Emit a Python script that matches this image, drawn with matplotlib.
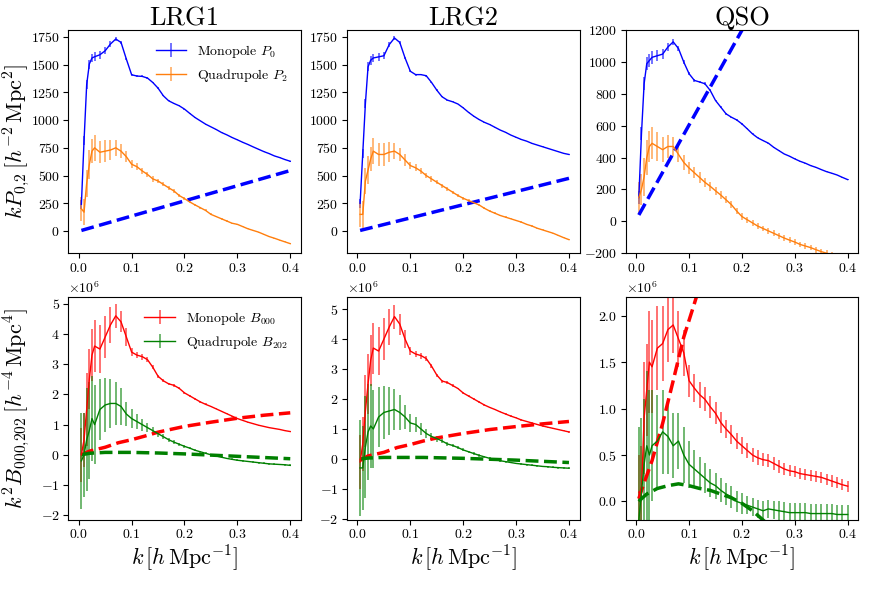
import numpy as np
import matplotlib
matplotlib.use('Agg')
from matplotlib import pyplot as plt
from matplotlib.ticker import ScalarFormatter

plt.rcParams['font.family'] = 'serif'
plt.rcParams['font.serif'] = ['cmr10']
plt.rcParams['mathtext.fontset'] = 'cm'
plt.rcParams['axes.formatter.use_mathtext'] = True
plt.rcParams['axes.unicode_minus'] = True

# k bins (h/Mpc)
k = [0.005, 0.01, 0.015, 0.02, 0.025, 0.03,
     0.04, 0.05, 0.06, 0.07, 0.08, 0.09, 0.10,
     0.11, 0.12, 0.13, 0.14, 0.15, 0.16, 0.17, 0.18, 0.19, 0.20,
     0.21, 0.22, 0.23, 0.24, 0.25, 0.26, 0.27, 0.28, 0.29, 0.30,
     0.31, 0.32, 0.33, 0.34, 0.35, 0.36, 0.37, 0.38, 0.39, 0.40]

tracers = ['LRG1', 'LRG2', 'QSO']

# ---- power spectrum multipoles, k P_l ----
p0_lrg1 = [241, 813, 1320, 1505, 1560, 1571,
           1589, 1625, 1686, 1731, 1700, 1550, 1409,
           1397, 1394, 1379, 1339, 1288, 1219, 1174, 1150, 1129, 1099,
           1060, 1023, 993, 963, 939, 915, 888, 867, 843, 822,
           800, 780, 758, 737, 716, 698, 677, 662, 644, 629]
p0_lrg2 = [250, 700, 1150, 1480, 1540, 1560,
           1570, 1580, 1680, 1740, 1700, 1560, 1440,
           1410, 1410, 1400, 1340, 1270, 1210, 1180, 1165, 1145, 1110,
           1070, 1035, 1005, 980, 960, 935, 910, 890, 865, 845,
           825, 810, 790, 775, 760, 745, 730, 715, 700, 690]
p0_qso = [150, 550, 864, 990, 1010, 1030,
          1040, 1050, 1095, 1127, 1085, 1000, 927,
          885, 875, 864, 822, 759, 717, 675, 654, 637, 612,
          581, 549, 524, 507, 491, 465, 444, 423, 409, 392,
          377, 365, 350, 339, 325, 312, 302, 291, 276, 262]
p0_err = [40, 40, 40, 40, 40, 40,
          35, 30, 25, 20, 15, 12, 10,
          10, 8, 8, 6, 6, 5, 5, 4, 4, 4,
          4, 3, 3, 3, 3, 3, 3, 3, 3, 3,
          3, 3, 3, 3, 3, 3, 3, 3, 3, 3]

p2_lrg1 = [200, 170, 430, 600, 720, 750,
           710, 720, 730, 750, 720, 670, 602,
           580, 542, 510, 470, 451, 420, 390, 361, 320, 292,
           262, 235, 210, 185, 150, 130, 110, 90, 70, 60,
           40, 20, 5, -10, -30, -50, -65, -82, -98, -114]
p2_lrg2 = [150, 150, 450, 550, 650, 720,
           690, 690, 710, 720, 690, 640, 590,
           570, 540, 500, 470, 440, 410, 380, 350, 320, 295,
           275, 255, 235, 205, 180, 160, 140, 125, 110, 95,
           80, 60, 45, 25, 10, -5, -20, -40, -60, -78]
p2_qso = [150, 200, 280, 400, 470, 490,
          470, 450, 470, 470, 420, 370, 335,
          305, 275, 245, 220, 192, 165, 135, 105, 65, 30,
          10, -10, -30, -45, -60, -75, -90, -105, -118, -130,
          -145, -155, -165, -178, -190, -200, -210, -218, -226, -235]
p2_err = [110, 120, 120, 130, 110, 120,
          100, 100, 90, 70, 60, 50, 35,
          30, 30, 25, 25, 20, 18, 16, 15, 14, 12,
          11, 10, 10, 9, 8, 8, 7, 7, 6, 6,
          6, 6, 5, 5, 5, 5, 5, 5, 5, 5]
p2_err_qso = [100, 100, 120, 110, 100, 100,
              90, 80, 70, 60, 50, 45, 40,
              35, 32, 30, 28, 26, 24, 22, 20, 20, 20,
              20, 20, 20, 18, 18, 18, 18, 18, 18, 18,
              18, 18, 18, 18, 18, 18, 18, 18, 18, 18]

# model (dashed) lines
pk_model_k = [0.005, 0.4]
pk_model_lrg1 = [5, 545]
pk_model_lrg2 = [5, 475]
pk_model_qso = [40, 2390]

# ---- bispectrum multipoles, k^2 B (units of 1e6) ----
b0_lrg1 = [0.0, 0.5, 1.5, 2.5, 3.3, 3.6,
           3.5, 3.9, 4.3, 4.6, 4.4, 3.9, 3.4,
           3.3, 3.25, 3.15, 2.9, 2.6, 2.45, 2.35, 2.3, 2.2, 2.05,
           1.95, 1.85, 1.75, 1.67, 1.6, 1.52, 1.44, 1.36, 1.28, 1.2,
           1.14, 1.08, 1.03, 0.98, 0.94, 0.9, 0.87, 0.84, 0.8, 0.77]
b0_lrg2 = [-0.1, 0.5, 1.6, 2.5, 3.3, 3.7,
           3.6, 4.0, 4.4, 4.75, 4.5, 4.0, 3.6,
           3.5, 3.45, 3.35, 3.1, 2.8, 2.6, 2.55, 2.45, 2.35, 2.2,
           2.1, 2.0, 1.9, 1.8, 1.72, 1.65, 1.57, 1.5, 1.43, 1.37,
           1.3, 1.25, 1.2, 1.15, 1.1, 1.06, 1.02, 0.98, 0.94, 0.9]
b0_qso = [0.1, 0.1, 0.9, 1.2, 1.5, 1.45,
          1.65, 1.7, 1.85, 1.9, 1.75, 1.6, 1.3,
          1.22, 1.15, 1.1, 1.02, 0.95, 0.85, 0.78, 0.72, 0.65, 0.6,
          0.55, 0.5, 0.47, 0.45, 0.44, 0.41, 0.38, 0.35, 0.33, 0.32,
          0.3, 0.29, 0.28, 0.27, 0.26, 0.24, 0.22, 0.2, 0.18, 0.165]
b0_err = [0.9, 0.9, 1.2, 1.0, 0.85, 0.85,
          0.8, 0.7, 0.6, 0.4, 0.35, 0.3, 0.12,
          0.1, 0.1, 0.08, 0.06, 0.05, 0.05, 0.04, 0.04, 0.03, 0.03,
          0.03, 0.03, 0.03, 0.03, 0.02, 0.02, 0.02, 0.02, 0.02, 0.02,
          0.02, 0.02, 0.02, 0.02, 0.02, 0.02, 0.02, 0.02, 0.02, 0.02]
b0_err_qso = [0.4, 0.5, 0.6, 0.5, 0.55, 0.5,
              0.45, 0.4, 0.35, 0.3, 0.3, 0.25, 0.17,
              0.15, 0.14, 0.13, 0.12, 0.12, 0.11, 0.1, 0.1, 0.09, 0.09,
              0.08, 0.08, 0.08, 0.07, 0.07, 0.07, 0.07, 0.06, 0.06, 0.06,
              0.06, 0.06, 0.06, 0.06, 0.06, 0.06, 0.06, 0.06, 0.06, 0.06]

b2_lrg1 = [-0.2, 0.0, 0.5, 0.8, 1.2, 1.0,
           1.5, 1.65, 1.7, 1.7, 1.6, 1.35, 1.2,
           1.1, 1.0, 0.9, 0.8, 0.7, 0.6, 0.5, 0.42, 0.35, 0.28,
           0.22, 0.15, 0.1, 0.05, 0.0, -0.04, -0.08, -0.12, -0.15, -0.18,
           -0.2, -0.22, -0.24, -0.26, -0.28, -0.3, -0.31, -0.32, -0.33, -0.35]
b2_lrg2 = [-0.3, -0.3, 0.4, 0.9, 1.1, 1.0,
           1.4, 1.55, 1.6, 1.65, 1.55, 1.4, 1.2,
           1.15, 1.0, 0.85, 0.75, 0.68, 0.6, 0.5, 0.45, 0.38, 0.3,
           0.24, 0.18, 0.12, 0.07, 0.02, -0.02, -0.06, -0.09, -0.12, -0.15,
           -0.17, -0.19, -0.21, -0.23, -0.25, -0.26, -0.28, -0.29, -0.3, -0.31]
b2_qso = [-0.2, 0.1, 0.4, 0.6, 0.5, 0.6,
          0.65, 0.75, 0.7, 0.6, 0.65, 0.5, 0.4,
          0.35, 0.3, 0.25, 0.2, 0.17, 0.12, 0.08, 0.05, 0.0, -0.02,
          -0.04, -0.06, -0.08, -0.1, -0.08, -0.09, -0.1, -0.11, -0.12, -0.12,
          -0.12, -0.12, -0.13, -0.13, -0.13, -0.13, -0.13, -0.14, -0.14, -0.14]
b2_err = [1.6, 1.4, 1.7, 1.6, 1.4, 1.3,
          1.0, 0.9, 0.8, 0.7, 0.6, 0.4, 0.3,
          0.25, 0.2, 0.15, 0.12, 0.1, 0.08, 0.07, 0.06, 0.05, 0.05,
          0.04, 0.04, 0.04, 0.03, 0.03, 0.03, 0.03, 0.03, 0.03, 0.03,
          0.03, 0.03, 0.03, 0.03, 0.03, 0.03, 0.03, 0.03, 0.03, 0.03]
b2_err_qso = [1.0, 0.8, 0.7, 0.8, 0.7, 0.6,
              0.5, 0.45, 0.4, 0.35, 0.3, 0.3, 0.25,
              0.2, 0.18, 0.16, 0.15, 0.14, 0.13, 0.12, 0.12, 0.11, 0.11,
              0.1, 0.1, 0.1, 0.1, 0.1, 0.1, 0.1, 0.1, 0.1, 0.1,
              0.1, 0.1, 0.1, 0.1, 0.1, 0.1, 0.1, 0.1, 0.1, 0.1]

# bispectrum model curves (units of 1e6)
bk_model_k = [0.005, 0.02, 0.05, 0.075, 0.1, 0.125, 0.15, 0.2, 0.25, 0.3, 0.35, 0.4]
b0_model_lrg1 = [0.0, 0.12, 0.25, 0.4, 0.5, 0.62, 0.75, 0.94, 1.08, 1.21, 1.31, 1.39]
b2_model_lrg1 = [0.0, 0.05, 0.08, 0.08, 0.08, 0.07, 0.06, 0.03, -0.01, -0.05, -0.09, -0.13]
b0_model_lrg2 = [-0.05, 0.1, 0.22, 0.38, 0.48, 0.6, 0.7, 0.85, 0.98, 1.08, 1.17, 1.25]
b2_model_lrg2 = [0.0, 0.03, 0.05, 0.05, 0.05, 0.05, 0.04, 0.02, -0.01, -0.04, -0.08, -0.12]
b0_model_qso_k = [0.005, 0.01, 0.03, 0.05, 0.07, 0.09, 0.11, 0.13, 0.15]
b0_model_qso = [0.03, 0.12, 0.44, 0.84, 1.3, 1.77, 2.13, 2.5, 2.9]
b2_model_qso_k = [0.005, 0.01, 0.02, 0.04, 0.06, 0.08, 0.1, 0.12, 0.14, 0.16, 0.18, 0.2, 0.22, 0.24, 0.26]
b2_model_qso = [0.0, 0.03, 0.08, 0.14, 0.17, 0.19, 0.17, 0.14, 0.12, 0.08, 0.04, -0.02, -0.1, -0.2, -0.3]

p0_all = [p0_lrg1, p0_lrg2, p0_qso]
p2_all = [p2_lrg1, p2_lrg2, p2_qso]
p2_err_all = [p2_err, p2_err, p2_err_qso]
pk_model_all = [pk_model_lrg1, pk_model_lrg2, pk_model_qso]
b0_all = [b0_lrg1, b0_lrg2, b0_qso]
b2_all = [b2_lrg1, b2_lrg2, b2_qso]
b0_err_all = [b0_err, b0_err, b0_err_qso]
b2_err_all = [b2_err, b2_err, b2_err_qso]
b0_model_all = [(bk_model_k, b0_model_lrg1), (bk_model_k, b0_model_lrg2), (b0_model_qso_k, b0_model_qso)]
b2_model_all = [(bk_model_k, b2_model_lrg1), (bk_model_k, b2_model_lrg2), (b2_model_qso_k, b2_model_qso)]

pk_ylims = [(-200, 1810), (-200, 1810), (-200, 1200)]
pk_yticks = [np.arange(0, 1751, 250), np.arange(0, 1751, 250), np.arange(-200, 1201, 200)]
bk_ylims = [(-2.16e6, 5.22e6), (-2.04e6, 5.4e6), (-0.2e6, 2.2e6)]
bk_yticks = [np.arange(-2, 6) * 1e6, np.arange(-2, 6) * 1e6, np.arange(0, 2.1, 0.5) * 1e6]


def errplot(ax, x, y, e, color, label):
    c = ax.errorbar(x, y, yerr=e, color=color, lw=1, elinewidth=1.2, label=label)
    for bars in c[2]:
        bars.set_alpha(0.65)


fig, axes = plt.subplots(2, 3, figsize=(8.74, 5.93), dpi=100)
fig.subplots_adjust(left=0.078, right=0.982, top=0.949, bottom=0.123, wspace=0.198, hspace=0.197)

k = np.array(k)
for i in range(3):
    ax = axes[0, i]
    errplot(ax, k, p0_all[i], p0_err, 'blue', 'Monopole $P_0$')
    errplot(ax, k, p2_all[i], p2_err_all[i], 'tab:orange', 'Quadrupole $P_2$')
    ax.plot(pk_model_k, pk_model_all[i], '--', color='blue', lw=2.5)
    ax.set_ylim(pk_ylims[i])
    ax.set_yticks(pk_yticks[i])
    ax.set_xlim(-0.02, 0.42)
    ax.set_xticks([0.0, 0.1, 0.2, 0.3, 0.4])
    ax.set_title(tracers[i], fontsize=19, pad=3)
    ax.tick_params(labelsize=10, pad=2.5)

    ax = axes[1, i]
    errplot(ax, k, np.array(b0_all[i]) * 1e6, np.array(b0_err_all[i]) * 1e6, 'red', 'Monopole $B_{000}$')
    errplot(ax, k, np.array(b2_all[i]) * 1e6, np.array(b2_err_all[i]) * 1e6, 'green', 'Quadrupole $B_{202}$')
    ax.plot(b0_model_all[i][0], np.array(b0_model_all[i][1]) * 1e6, '--', color='red', lw=2.5)
    ax.plot(b2_model_all[i][0], np.array(b2_model_all[i][1]) * 1e6, '--', color='green', lw=2.5)
    ax.set_ylim(bk_ylims[i])
    ax.set_yticks(bk_yticks[i])
    ax.set_xlim(-0.02, 0.42)
    ax.set_xticks([0.0, 0.1, 0.2, 0.3, 0.4])
    fmt = ScalarFormatter(useMathText=True)
    fmt.set_powerlimits((0, 0))
    ax.yaxis.set_major_formatter(fmt)
    ax.yaxis.get_offset_text().set_fontsize(10)
    ax.tick_params(labelsize=10, pad=2.5)
    ax.set_xlabel(r'$k\,[h\,\mathrm{Mpc}^{-1}]$', fontsize=16, labelpad=1)

axes[0, 0].set_ylabel(r'$kP_{0{,}2}\,[h^{-2}\,\mathrm{Mpc}^2]$', fontsize=16)
axes[1, 0].set_ylabel(r'$k^2B_{000{,}202}\,[h^{-4}\,\mathrm{Mpc}^4]$', fontsize=16)
axes[0, 0].yaxis.set_label_coords(-0.155, 0.5)
axes[1, 0].yaxis.set_label_coords(-0.155, 0.5)
axes[0, 0].legend(loc='upper right', frameon=False, fontsize=10, handlelength=2.2)
axes[1, 0].legend(loc='upper right', frameon=False, fontsize=10, handlelength=2.2)

plt.savefig('out.png', dpi=100)
